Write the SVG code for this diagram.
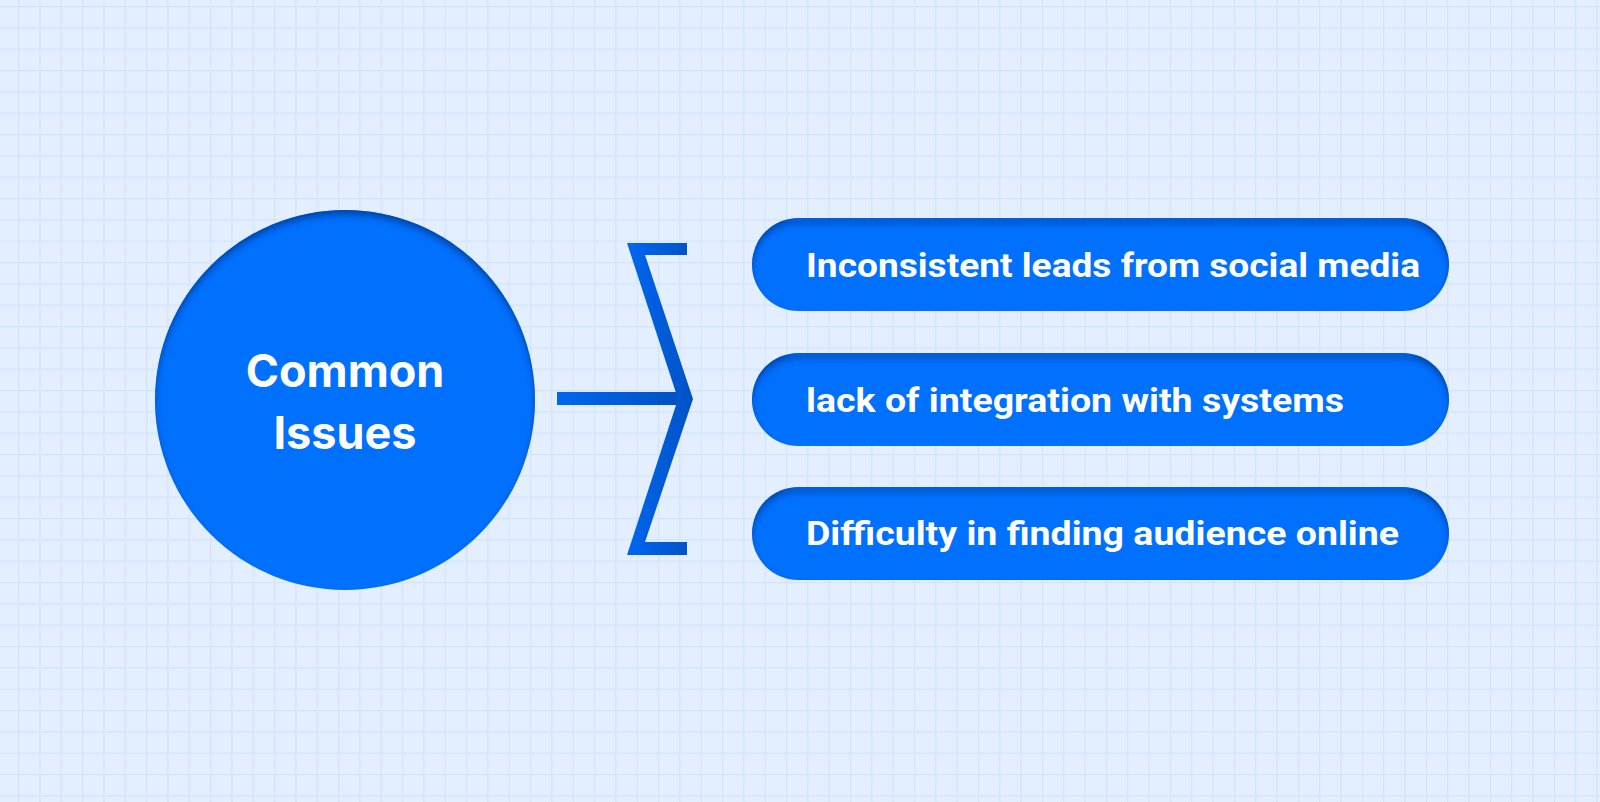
<svg xmlns="http://www.w3.org/2000/svg" width="1600" height="802" viewBox="0 0 1600 802">
<defs>
<pattern id="grid" x="18" y="6" width="21.33" height="21.33" patternUnits="userSpaceOnUse">
<path d="M0 0H21.33M0 0V21.33" fill="none" stroke="#d1e3fb" stroke-width="2.5"/>
</pattern>
<filter id="inset" x="-5%" y="-5%" width="110%" height="110%">
<feFlood flood-color="#003a96" flood-opacity="0.9"/>
<feComposite in2="SourceAlpha" operator="out"/>
<feOffset dy="5"/>
<feGaussianBlur stdDeviation="3.5"/>
<feComposite in2="SourceAlpha" operator="in"/>
<feComposite in2="SourceGraphic" operator="over"/>
</filter>
<linearGradient id="br" x1="0" y1="0" x2="1" y2="0">
<stop offset="0" stop-color="#0066f0"/><stop offset="1" stop-color="#0052c4"/>
</linearGradient>
<style>
.blue{fill:#0070ff}
.lbl{font-family:Roboto,"Liberation Sans",sans-serif;font-weight:700;font-size:33px;fill:#fff}
.hub{font-family:Inter,"Liberation Sans",sans-serif;font-weight:700;font-size:45px;fill:#fff}
</style>
</defs>
<rect width="1600" height="802" fill="#e3efff"/>
<rect width="1600" height="802" fill="url(#grid)"/>
<g id="connectors">
<rect x="557" y="392" width="121" height="13" fill="url(#br)"/>
<polygon points="627,243 687,243 687,255 645,255 693,399 645,542 687,542 687,555 627,555 678,399" fill="url(#br)"/>
</g>
<g id="hub">
<circle cx="345" cy="400" r="190" class="blue" filter="url(#inset)"/>
<text class="hub" x="345" y="387" text-anchor="middle">Common</text>
<text class="hub" x="345" y="449" text-anchor="middle">Issues</text>
</g>
<g id="issue1">
<rect x="752" y="218" width="697" height="93" rx="46.5" class="blue" filter="url(#inset)"/>
<text class="lbl" x="806" y="277" textLength="614" lengthAdjust="spacingAndGlyphs">Inconsistent leads from social media</text>
</g>
<g id="issue2">
<rect x="752" y="353" width="697" height="93" rx="46.5" class="blue" filter="url(#inset)"/>
<text class="lbl" x="806" y="412" textLength="538" lengthAdjust="spacingAndGlyphs">lack of integration with systems</text>
</g>
<g id="issue3">
<rect x="752" y="487" width="697" height="93" rx="46.5" class="blue" filter="url(#inset)"/>
<text class="lbl" x="806" y="545" textLength="593" lengthAdjust="spacingAndGlyphs">Difficulty in finding audience online</text>
</g>
</svg>
